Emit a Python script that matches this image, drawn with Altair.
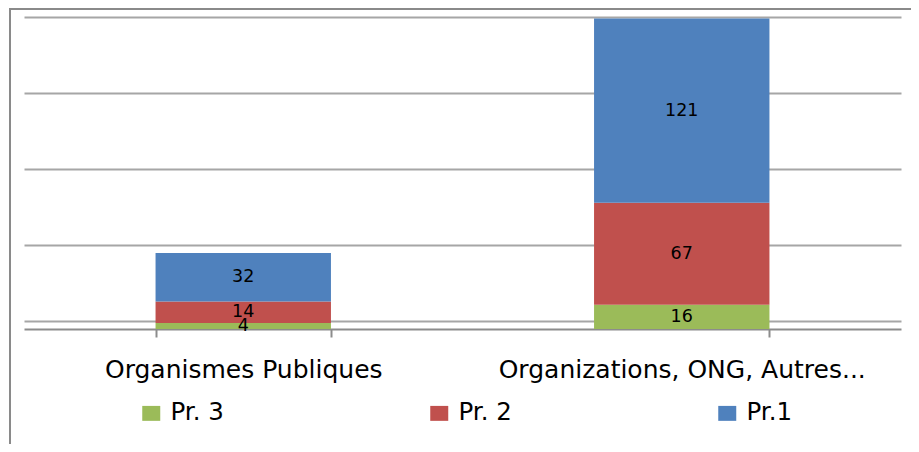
import altair as alt
import pandas as pd

categories = ["Organismes Publiques", "Organizations, ONG, Autres..."]
series = ["Pr. 3", "Pr. 2", "Pr.1"]
pr3 = [4, 16]
pr2 = [14, 67]
pr1 = [32, 121]
colors = ["#9BBB59", "#C0504D", "#4F81BD"]
grid_values = [5, 55, 105, 155, 205]

rows = []
for i, c in enumerate(categories):
    for k, (s, vals) in enumerate(zip(series, [pr3, pr2, pr1])):
        rows.append({"cat": c, "series": s, "value": vals[i], "order": k})
df = pd.DataFrame(rows)

FONT = "DejaVu Sans"
W, H = 877, 312

xenc = alt.X(
    "cat:N", sort=categories, title=None,
    scale=alt.Scale(paddingInner=0.6, paddingOuter=0.3),
    axis=alt.Axis(labelAngle=0, labelFontSize=25, labelColor="black", labelFont=FONT,
                  domainColor="#8c8c8c", domainWidth=2, tickColor="#8c8c8c", tickWidth=2,
                  tickSize=8, tickBand="extent", labelPadding=20, labelLimit=500),
)

base = alt.Chart(df)

bars = base.mark_bar().encode(
    x=xenc,
    y=alt.Y("value:Q", stack="zero", scale=alt.Scale(domain=[0, 205], nice=False),
            axis=alt.Axis(values=grid_values, labels=False, ticks=False, domain=False,
                          grid=True, gridColor="#a6a6a6", gridWidth=2, title=None)),
    color=alt.Color("series:N", scale=alt.Scale(domain=series, range=colors),
                    legend=alt.Legend(orient="none", legendX=115, legendY=384, direction="horizontal",
                                      title=None, labelFontSize=24.5, labelFont=FONT, labelColor="black",
                                      symbolType="M-1,-0.83H1V0.83H-1Z", symbolSize=324,
                                      symbolStrokeWidth=0, labelOffset=7, columnPadding=203,
                                      padding=0)),
    order=alt.Order("order:Q"),
)

labels = base.transform_stack(
    stack="value", groupby=["cat"], as_=["y0", "y1"], sort=[alt.SortField("order")]
).transform_calculate(mid="(datum.y0 + datum.y1) / 2").mark_text(
    fontSize=17.5, font=FONT, color="black"
).encode(
    x=alt.X("cat:N", sort=categories),
    y=alt.Y("mid:Q"),
    text="value:Q",
)

frame = alt.Chart(pd.DataFrame({"a": [0]})).mark_rect(
    fill=None, stroke="#8a8a8a", strokeWidth=2
).encode(
    x=alt.value(-14), x2=alt.value(891), y=alt.value(-8), y2=alt.value(460)
)

chart = alt.layer(bars, labels, frame).properties(
    width=W, height=H,
    padding={"left": 16, "top": 9, "right": 10, "bottom": 115},
    autosize=alt.AutoSizeParams(type="none"),
).configure_view(stroke=None)

chart.save("out.html", embed_options={"renderer": "svg", "actions": False})
